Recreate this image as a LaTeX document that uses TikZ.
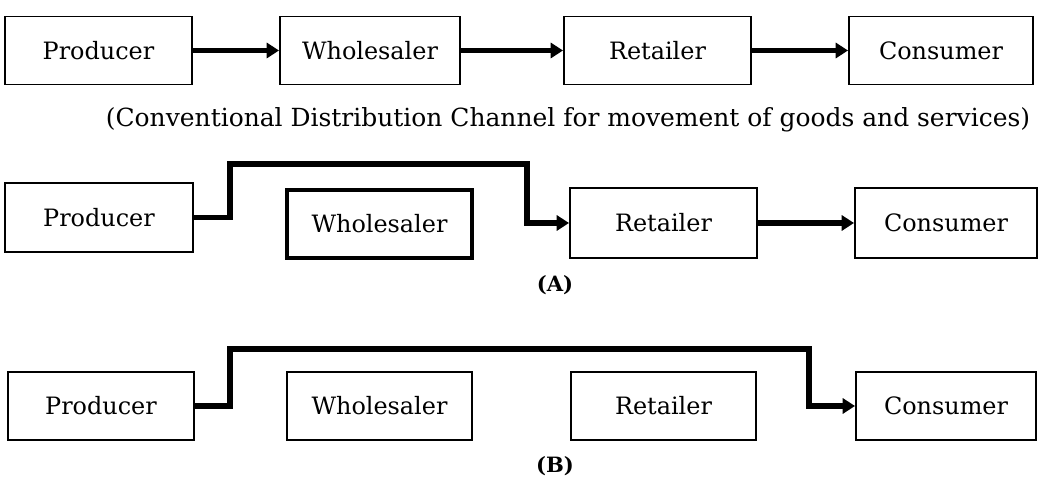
\documentclass[tikz,border=0pt]{standalone}
\usepackage{fontspec}
\setmainfont{DejaVu Serif}
\usetikzlibrary{arrows.meta}

\tikzset{
  chbox/.style={rectangle,draw,line width=1.1pt,minimum height=1.36cm,inner sep=0pt,font=\fontsize{13.6}{16}\selectfont},
  flow/.style={line width=3.2pt,-{Triangle[length=7pt,width=8.5pt]}}
}

\begin{document}
\begin{tikzpicture}
            \clip (0, 0) rectangle (20.76, 9.56);
            \fill[white] (0, 0) rectangle (20.76, 9.56);

            % conventional channel
            \node[chbox,minimum width=3.74cm] (prod) at (1.97, 8.55) {Producer};
            \node[chbox,minimum width=3.6cm] (whole) at (7.4, 8.55) {Wholesaler};
            \node[chbox,minimum width=3.74cm] (ret) at (13.15, 8.55) {Retailer};
            \node[chbox,minimum width=3.68cm] (cons) at (18.82, 8.55) {Consumer};

            \draw [flow](prod) -- (whole);
            \draw [flow](whole) -- (ret);
            \draw [flow](ret) -- (cons);

            \node[font=\fontsize{14.2}{16}\selectfont] (cap) at (11.36, 7.16) {(Conventional Distribution Channel for movement of goods and services)};

            % (A)
            \node[chbox,minimum width=3.76cm,minimum height=1.38cm] (prodA) at (1.98, 5.21) {Producer};
            \node[chbox,line width=2pt,minimum width=3.7cm] (wholeA) at (7.59, 5.08) {Wholesaler};
            \node[chbox,minimum width=3.74cm,minimum height=1.4cm] (retA) at (13.27, 5.1) {Retailer};
            \node[chbox,minimum width=3.64cm,minimum height=1.4cm] (consA) at (18.92, 5.1) {Consumer};

            \coordinate (upA) at (4.6, 6.28);
            \coordinate (downA) at (10.54, 6.28);
            \draw [flow](prodA.east) -| (upA) -- (downA) |- (retA.west);
            \draw [flow](retA) -- (consA);

            \node[font=\bfseries\fontsize{12}{14}\selectfont] (labA) at (11.1, 3.86) {(A)};

            % (B)
            \node[chbox,minimum width=3.72cm] (prodB) at (2.02, 1.44) {Producer};
            \node[chbox,minimum width=3.7cm] (wholeB) at (7.59, 1.44) {Wholesaler};
            \node[chbox,minimum width=3.7cm] (retB) at (13.27, 1.44) {Retailer};
            \node[chbox,minimum width=3.6cm] (consB) at (18.92, 1.44) {Consumer};

            \coordinate (upB) at (4.6, 2.58);
            \coordinate (downB) at (16.18, 2.58);
            \draw [flow](prodB.east) -| (upB) -- (downB) |- (consB.west);

            \node[font=\bfseries\fontsize{12}{14}\selectfont] (labB) at (11.1, 0.24) {(B)};
        \end{tikzpicture}
\end{document}
